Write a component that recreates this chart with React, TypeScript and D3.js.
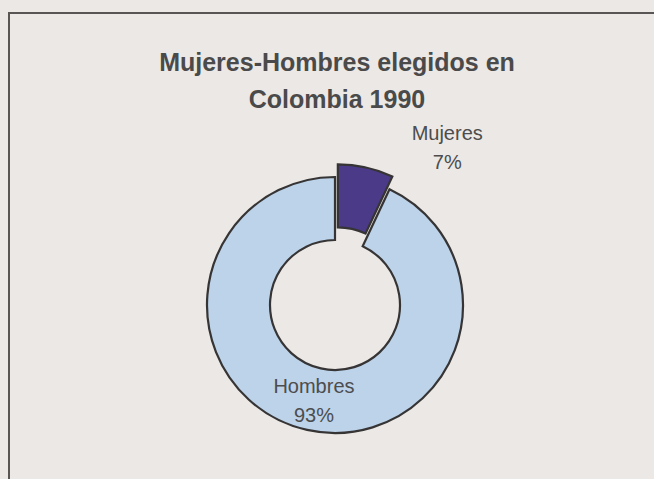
import React, { useRef, useEffect } from "react";
import * as d3 from "d3";

const categories = ["Mujeres", "Hombres"];
const values = [7, 93];
const percentLabels = ["7%", "93%"];
const colors = ["#4a3a88", "#bcd3ea"];
const titleLines = ["Mujeres-Hombres elegidos en", "Colombia 1990"];

const App: React.FC = () => {
  const ref = useRef<SVGSVGElement | null>(null);
  const width = 654;
  const height = 479;

  useEffect(() => {
    const svg = d3.select(ref.current);
    svg.selectAll("*").remove();

    // scanned page background
    svg
      .append("rect")
      .attr("width", width)
      .attr("height", height)
      .attr("fill", "#ebe8e5");

    // frame around the chart (only top + left visible)
    svg
      .append("path")
      .attr("d", `M9,${height} L9,13 L${width},13`)
      .attr("fill", "none")
      .attr("stroke", "#5a5555")
      .attr("stroke-width", 2);

    // title
    const title = svg
      .append("text")
      .attr("text-anchor", "middle")
      .attr("fill", "#4a4a4a")
      .style("font-family", "'Liberation Sans', Arial, sans-serif")
      .style("font-weight", "bold")
      .style("font-size", "25px");
    titleLines.forEach((t, i) => {
      title
        .append("tspan")
        .attr("x", 337)
        .attr("y", 71 + i * 37)
        .text(t);
    });

    const cx = 335;
    const cy = 305;
    const outer = 128;
    const inner = 65;
    const explode = 13;

    const data = categories.map((c, i) => ({
      name: c,
      value: values[i],
      pct: percentLabels[i],
      color: colors[i],
    }));

    const pie = d3
      .pie<(typeof data)[number]>()
      .sort(null)
      .value((d) => d.value);
    const arcs = pie(data);

    const arc = d3
      .arc<d3.PieArcDatum<(typeof data)[number]>>()
      .innerRadius(inner)
      .outerRadius(outer);

    const g = svg.append("g").attr("transform", `translate(${cx},${cy})`);

    g.selectAll("path.slice")
      .data(arcs)
      .enter()
      .append("path")
      .attr("class", "slice")
      .attr("d", arc)
      .attr("fill", (d) => d.data.color)
      .attr("stroke", "#363434")
      .attr("stroke-width", 2.2)
      .attr("stroke-linejoin", "miter")
      .attr("transform", (d) => {
        if (d.index !== 0) return null;
        const mid = (d.startAngle + d.endAngle) / 2;
        return `translate(${explode * Math.sin(mid)},${-explode * Math.cos(mid)})`;
      });

    // labels
    const labelFont = "'Liberation Sans', Arial, sans-serif";
    arcs.forEach((d) => {
      let x: number;
      let y: number;
      if (d.index === 0) {
        // outside end, a little past the slice
        const a = d.endAngle + 0.175;
        const r = outer * 1.52;
        x = r * Math.sin(a);
        y = -r * Math.cos(a);
      } else {
        [x, y] = arc.centroid(d);
      }
      const t = g
        .append("text")
        .attr("text-anchor", "middle")
        .attr("fill", "#4d4d4d")
        .style("font-family", labelFont)
        .style("font-size", "20px");
      t.append("tspan").attr("x", x).attr("y", y - 6).text(d.data.name);
      t.append("tspan").attr("x", x).attr("y", y + 23).text(d.data.pct);
    });
  }, []);

  return (
    <svg
      ref={ref}
      width={width}
      height={height}
      style={{ position: "absolute", left: 0, top: 0, display: "block" }}
    />
  );
};

export default App;
